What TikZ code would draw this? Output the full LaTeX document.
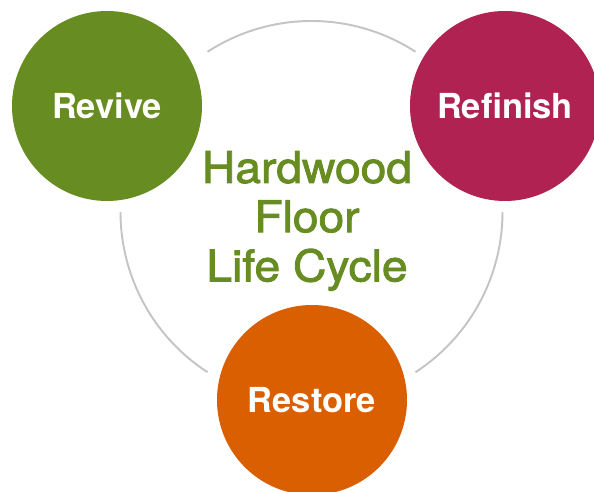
\documentclass[tikz,border=0pt]{standalone}
\usepackage{fontspec}
\setmainfont{TeX Gyre Heros}
\newfontfamily\titlefont[FakeStretch=1.06, FakeBold=2]{TeX Gyre Heros}
\definecolor{reviveGreen}{HTML}{678D22}
\definecolor{refinishRed}{HTML}{B02252}
\definecolor{restoreOrange}{HTML}{D95F00}
\definecolor{ringGray}{HTML}{C4C4C4}
\begin{document}
\begin{tikzpicture}[
stage/.style = {circle, minimum size=3.8cm, inner sep=0pt, text=white,
    font=\bfseries\fontsize{19.6}{23}\selectfont},
ring/.style = {draw=ringGray, line width=1.1pt},
title/.style = {align=center, inner sep=0pt, text=reviveGreen,
    font=\titlefont\fontsize{24.8}{28}\selectfont}]
\useasboundingbox (0,0) rectangle (11.88,9.84);
\coordinate (hub) at (6.23,5.60);
\draw[ring] (hub) ++(57:3.82) arc[start angle=57, end angle=123, radius=3.82cm];
\draw[ring] (hub) ++(180:3.82) arc[start angle=180, end angle=237, radius=3.82cm];
\draw[ring] (hub) ++(303:3.82) arc[start angle=303, end angle=360, radius=3.82cm];
\node[stage, fill=reviveGreen] (revive) at (2.14,7.72) {Revive};
\node[stage, fill=refinishRed] (refinish) at (10.10,7.72) {Refinish};
\node[stage, fill=restoreOrange] (restore) at (6.24,1.84) {Restore};
\node[title] (name) at (6.14,5.42) {Hardwood\\Floor\\Life Cycle};
\end{tikzpicture}
\end{document}
